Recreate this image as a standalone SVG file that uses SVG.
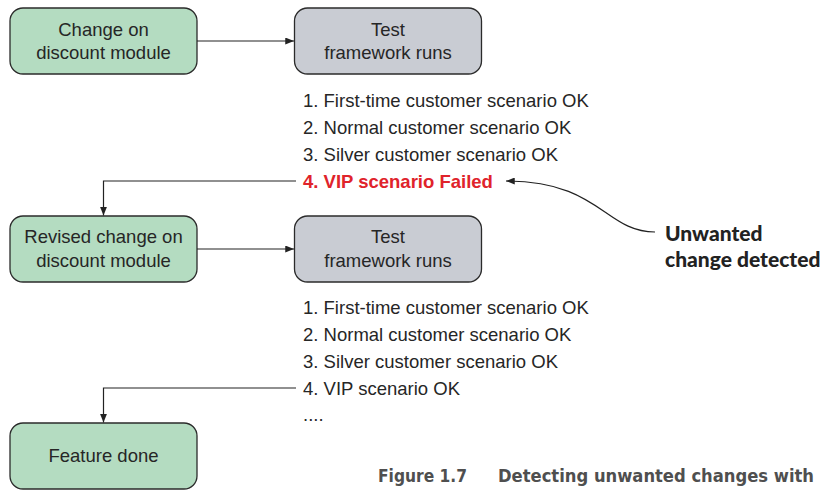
<svg xmlns="http://www.w3.org/2000/svg" width="821" height="490" viewBox="0 0 821 490">
<defs>
<style>
.green{fill:#b4dcc1;stroke:#2b2b2b;stroke-width:1.3}
.gray{fill:#c9ccd3;stroke:#2b2b2b;stroke-width:1.3}
.lbl{font-family:"Liberation Sans",Arial,sans-serif;font-size:18.5px;fill:#262626;text-anchor:middle}
.lst{font-family:"Liberation Sans",Arial,sans-serif;font-size:18.5px;fill:#262626}
.fail{font-family:"Liberation Sans",Arial,sans-serif;font-size:18.5px;font-weight:bold;fill:#e0232b}
.note{font-family:Lato,"Open Sans",sans-serif;font-size:21px;font-weight:900;fill:#222}
.cap{font-family:"DejaVu Sans Condensed","DejaVu Sans",sans-serif;font-stretch:condensed;font-size:18.5px;font-weight:bold;fill:#4f4f4f}
.ln{fill:none;stroke:#222;stroke-width:1.2}
</style>
<marker id="ah" viewBox="0 0 10 8" refX="10" refY="4" markerWidth="9" markerHeight="7" markerUnits="userSpaceOnUse" orient="auto">
<path d="M0,0 L10,4 L0,8 Z" fill="#222"/>
</marker>
</defs>
<rect width="821" height="490" fill="#fff"/>

<g id="n1"><rect class="green" x="10" y="8" width="187" height="66" rx="13"/>
<text class="lbl" x="103.5" y="35.5">Change on</text><text class="lbl" x="103.5" y="59">discount module</text></g>
<g id="n2"><rect class="gray" x="294.5" y="8" width="187" height="66" rx="13"/>
<text class="lbl" x="388" y="35.5">Test</text><text class="lbl" x="388" y="59">framework runs</text></g>

<g id="list1">
<text class="lst" x="303" y="107">1. First-time customer scenario OK</text>
<text class="lst" x="303" y="134">2. Normal customer scenario OK</text>
<text class="lst" x="303" y="161">3. Silver customer scenario OK</text>
<text class="fail" x="303" y="188">4. VIP scenario Failed</text>
</g>

<g id="n3"><rect class="green" x="10" y="216" width="187" height="66" rx="13"/>
<text class="lbl" x="103.5" y="243">Revised change on</text><text class="lbl" x="103.5" y="266.5">discount module</text></g>
<g id="n4"><rect class="gray" x="294.5" y="216" width="187" height="66" rx="13"/>
<text class="lbl" x="388" y="243">Test</text><text class="lbl" x="388" y="266.5">framework runs</text></g>

<g id="list2">
<text class="lst" x="303" y="314">1. First-time customer scenario OK</text>
<text class="lst" x="303" y="341">2. Normal customer scenario OK</text>
<text class="lst" x="303" y="368">3. Silver customer scenario OK</text>
<text class="lst" x="303" y="395">4. VIP scenario OK</text>
<text class="lst" x="303" y="421">....</text>
</g>

<g id="n5"><rect class="green" x="10" y="423" width="187" height="66" rx="13"/>
<text class="lbl" x="103.5" y="461.5">Feature done</text></g>

<g id="note"><text class="note" x="665" y="240.5">Unwanted</text><text class="note" x="665" y="266.5">change detected</text></g>

<g id="connectors">
<path class="ln" d="M197,41 H294" marker-end="url(#ah)"/>
<path class="ln" d="M296,181 H103.5 V215.5" marker-end="url(#ah)"/>
<path class="ln" d="M197,249 H294" marker-end="url(#ah)"/>
<path class="ln" d="M296,388 H103.5 V422.5" marker-end="url(#ah)"/>
<path class="ln" d="M655,232 C605,232 600,181 506,181" marker-end="url(#ah)"/>
</g>

<g id="caption">
<text class="cap" x="378" y="482" textLength="89" lengthAdjust="spacingAndGlyphs">Figure 1.7</text>
<text class="cap" x="498" y="482" textLength="316" lengthAdjust="spacingAndGlyphs">Detecting unwanted changes with</text>
</g>
</svg>
